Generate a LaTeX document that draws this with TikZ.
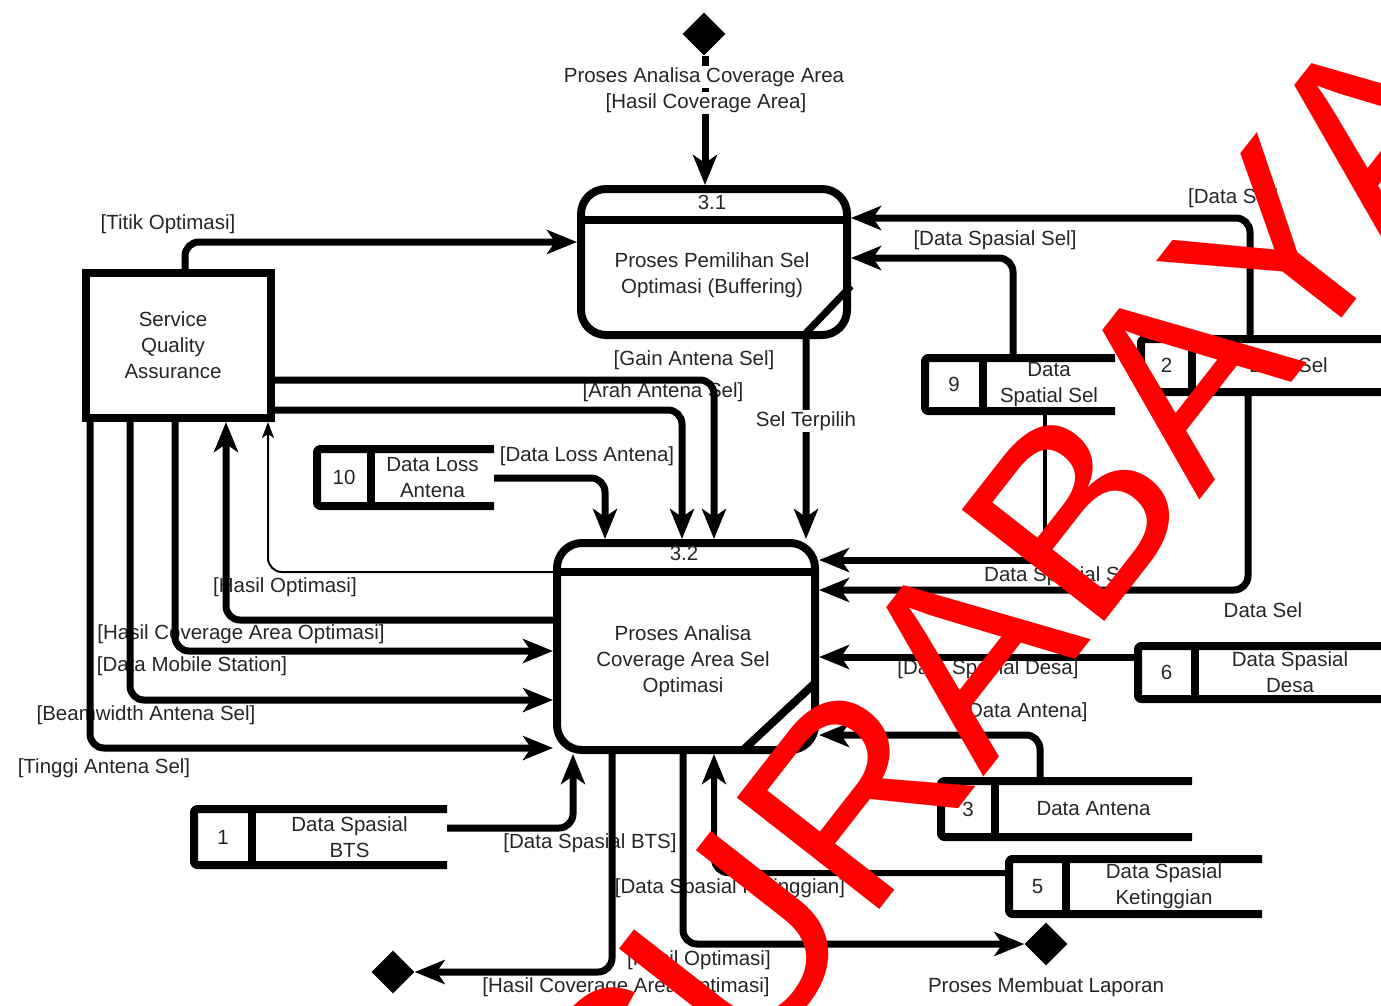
\documentclass[tikz,border=0pt]{standalone}
\usepackage{fontspec}
\setmainfont{Liberation Sans}
\usetikzlibrary{arrows.meta,shapes.geometric}

\newcommand\lblfont{\fontsize{20.5}{26}\selectfont}

% data store: name, left x, divider x, open-end x, top y, bottom y, number, title
\newcommand\dstore[8]{%
  \coordinate (#1-tl) at (#2,#5);
  \coordinate (#1-bl) at (#2,#6);
  \coordinate (#1-tr) at (#4,#5);
  \coordinate (#1-br) at (#4,#6);
  \draw[boxline, rounded corners=3pt] (#4,#5) -- (#2,#5) -- (#2,#6) -- (#4,#6);
  \draw[boxline] (#3,#5) -- (#3,#6);
  \node[lbl] (#1-num) at ({(#2+#3)/2},{(#5+#6)/2}) {#7};
  \node[lbl, align=center] (#1) at ({(#3+#4)/2},{(#5+#6)/2}) {#8};
}

\begin{document}
\begin{tikzpicture}[x=1pt,y=-1pt,
  boxline/.style={line width=8pt, line join=round},
  flow/.style={line width=7pt, rounded corners=14pt, -{Stealth[length=30pt,width=24pt,inset=8pt]}},
  thinflow/.style={line width=2pt, rounded corners=14pt, -{Stealth[length=16pt,width=12pt,inset=4pt]}},
  lbl/.style={font=\lblfont, inner sep=0pt, text=black!85},
  cutlbl/.style={lbl, fill=white, inner sep=1.5pt},
  procbox/.style={draw, line width=8pt, rounded corners=25pt, inner sep=0pt},
  entity/.style={draw, line width=8pt, inner sep=0pt},
  term/.style={diamond, fill=black, inner sep=0pt, minimum width=43pt, minimum height=43pt},
]
\useasboundingbox (0,0) rectangle (1381,1005);

% ---------- processes and external entity ----------
\node[procbox, minimum width=266pt, minimum height=146pt] (p31) at (714,262) {};
\draw[boxline] (p31.west |- 0,220) -- (p31.east |- 0,220);
\node[lbl] (p31-id) at (712,202) {3.1};
\node[lbl, align=center] (p31-t) at (712,275) {Proses Pemilihan Sel\\Optimasi (Buffering)};

\node[procbox, minimum width=258pt, minimum height=207pt] (p32) at (686,646.5) {};
\draw[boxline] (p32.west |- 0,572) -- (p32.east |- 0,572);
\node[lbl] (p32-id) at (684,553) {3.2};
\node[lbl, align=center] (p32-t) at (683,661) {Proses Analisa\\Coverage Area Sel\\Optimasi};

\node[entity, minimum width=185pt, minimum height=145pt] (sqa) at (178.5,345.5) {};
\node[lbl, align=center] (sqa-t) at (173,345) {Service\\Quality\\Assurance};

% ---------- data stores ----------
\dstore{s10}{317}{371}{494}{449}{506}{10}{Data Loss\\Antena}
\dstore{s1}{194}{252}{447}{809}{865}{1}{Data Spasial\\BTS}
\dstore{s9}{925}{983}{1115}{358}{411}{9}{Data\\Spatial Sel}
\dstore{s2}{1141}{1192}{1385}{339}{392}{2}{Data Sel}
\dstore{s6}{1138}{1195}{1385}{646}{699}{6}{Data Spasial\\Desa}
\dstore{s3}{941}{995}{1192}{781}{837}{3}{Data Antena}
\dstore{s5}{1009}{1066}{1262}{859}{914}{5}{Data Spasial\\Ketinggian}

% ---------- start / end points ----------
\node[term] (dtop) at (704,34) {};
\node[term] (dbl) at (393,972) {};
\node[term] (dbr) at (1046,944) {};

% ---------- flow labels ----------
\node[lbl] (l-titik) at (168,224) {[Titik Optimasi]};
\node[lbl, anchor=west] (l-dsel1) at (1188,198) {[Data Sel]};
\node[lbl] (l-dss1) at (995,240) {[Data Spasial Sel]};
\node[lbl] (l-gain) at (694,360) {[Gain Antena Sel]};
\node[lbl] (l-arah) at (663,392) {[Arah Antena Sel]};
\node[lbl] (l-loss) at (587,456) {[Data Loss Antena]};
\node[lbl] (l-hopt1) at (285,587) {[Hasil Optimasi]};
\node[lbl] (l-hcao1) at (241,634) {[Hasil Coverage Area Optimasi]};
\node[lbl] (l-dms) at (192,666) {[Data Mobile Station]};
\node[lbl] (l-beam) at (146,715) {[Beamwidth Antena Sel]};
\node[lbl] (l-ting) at (104,768) {[Tinggi Antena Sel]};
\node[lbl] (l-dss2) at (1060,576) {Data Spasial Sel};
\node[lbl] (l-dsel2) at (1263,610) {Data Sel};
\node[lbl] (l-desa) at (988,669) {[Data Spasial Desa]};
\node[lbl] (l-ant) at (1025,712) {[Data Antena]};
\node[lbl] (l-bts) at (590,843) {[Data Spasial BTS]};
\node[lbl] (l-ting2) at (730,888) {[Data Spasial Ketinggian]};
\node[lbl] (l-hopt2) at (699,960) {[Hasil Optimasi]};
\node[lbl] (l-hcao2) at (626,987) {[Hasil Coverage Area Optimasi]};
\node[lbl] (l-lap) at (1046,987) {Proses Membuat Laporan};

% ---------- flows ----------
\draw[flow] (dtop.south -| 705,0) -- (p31.north -| 705,0);
\draw[flow] (sqa.north -| 185,0) |- (p31.west |- 0,242);
\draw[flow] (sqa.east |- 0,380) -| (p32.north -| 714,0);
\draw[flow] (sqa.east |- 0,410) -| (p32.north -| 682,0);
\draw[flow] (s10-tr |- 0,478) -| (p32.north -| 605,0);
\draw[flow, rounded corners=0pt] (p31.east |- 0,286) -- (806,333) -- (p32.north -| 806,0);
\draw[boxline] (815,683) -- (742,751);

\draw[flow] (sqa.south -| 90,0) |- (p32.west |- 0,748);
\draw[flow] (sqa.south -| 130,0) |- (p32.west |- 0,700);
\draw[flow] (sqa.south -| 175,0) |- (p32.west |- 0,651);
\draw[flow] (p32.west |- 0,620) -| (sqa.south -| 226,0);
\draw[thinflow] (p32.west |- 0,572) -| (sqa.south -| 268,0);

\draw[flow] (s1-tr |- 0,828) -| (p32.south -| 573,0);
\draw[flow] (p32.south -| 612,0) |- (dbl.east);
\draw[flow] (p32.south -| 683,0) |- (dbr.west);
\draw[flow, line width=6pt] (s5-tl |- 0,873) -| (p32.south -| 714,0);

\draw[flow] (1040,0 |- s3-tl) |- (p32.east |- 0,735);
\draw[flow] (s6-tl |- 0,657) -- (p32.east |- 0,657);
\draw[flow] (1248,0 |- s2-bl) |- (p32.east |- 0,590);
\draw[line width=4pt] (1045,0 |- s9-bl) -- (1045,560);
\draw[flow] (1047,560) -- (p32.east |- 0,560);
\draw[flow] (1013,0 |- s9-tl) |- (p31.east |- 0,258);
\draw[flow] (1250,0 |- s2-tl) |- (p31.east |- 0,218);

% labels that break the lines they sit on
\node[cutlbl] (l-pac) at (704,77) {Proses Analisa Coverage Area};
\node[cutlbl] (l-hca) at (706,103) {[Hasil Coverage Area]};
\node[cutlbl] (l-selt) at (806,421) {Sel Terpilih};

% ---------- watermark ----------
\begin{scope}
\clip (0,0) rectangle (1381,1005);
\node[text=red, font=\fontsize{263}{263}\selectfont, rotate=52, anchor=base west, inner sep=0pt] (wm) at (649,1205.5) {S\kern-12pt URABAYA};
\end{scope}
\end{tikzpicture}
\end{document}
